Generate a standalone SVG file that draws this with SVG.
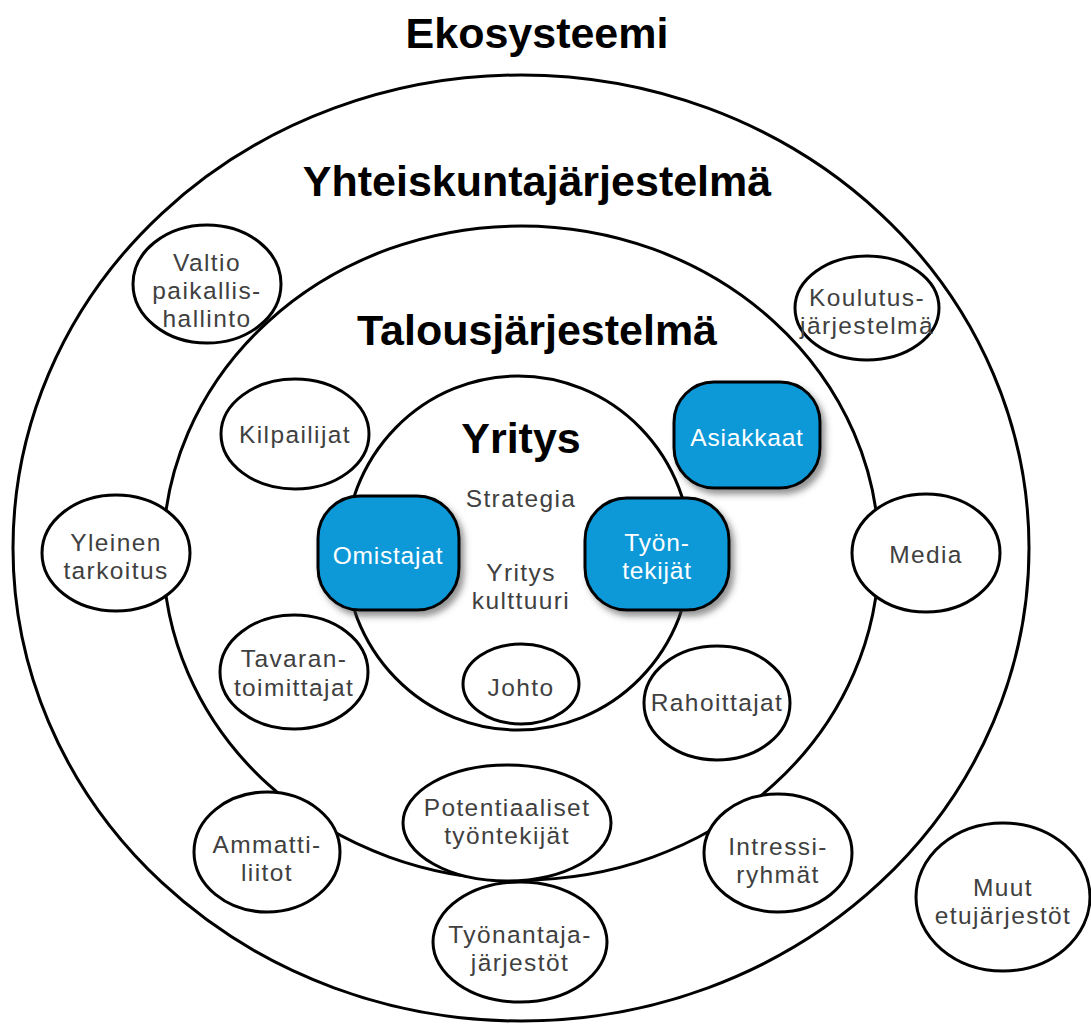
<svg xmlns="http://www.w3.org/2000/svg" width="1091" height="1026" viewBox="0 0 1091 1026">
  <defs>
    <filter id="shadow" x="-20%" y="-20%" width="150%" height="150%">
      <feDropShadow dx="4" dy="5" stdDeviation="3" flood-color="#404040" flood-opacity="0.55"/>
    </filter>
  </defs>
  <style>
    .ring { fill: none; stroke: #000; stroke-width: 3; }
    .node { fill: #fff; stroke: #000; stroke-width: 3; }
    .core { fill: #0A99D8; stroke: #000; stroke-width: 3; filter: url(#shadow); }
    .title { font-family: "Liberation Sans", Arial, sans-serif; font-weight: bold; font-size: 43px; fill: #000; text-anchor: middle; }
    .label { font-family: "Liberation Sans", Arial, sans-serif; font-size: 24.5px; letter-spacing: 1.4px; fill: #404040; text-anchor: middle; }
    .inv { font-family: "Liberation Sans", Arial, sans-serif; font-size: 24.5px; letter-spacing: 0.8px; fill: #fff; text-anchor: middle; }
  </style>
  <rect width="1091" height="1026" fill="#fff"/>

  <!-- nested system rings -->
  <g id="rings">
    <ellipse id="yhteiskunta" class="ring" cx="521" cy="548" rx="508" ry="473"/>
    <ellipse id="talous" class="ring" cx="521" cy="553" rx="358" ry="327"/>
    <ellipse id="yritys" class="ring" cx="518" cy="553" rx="173" ry="177"/>
  </g>

  <!-- level titles -->
  <text class="title" x="537" y="48">Ekosysteemi</text>
  <text class="title" x="537" y="196">Yhteiskuntajärjestelmä</text>
  <text class="title" x="537" y="345">Talousjärjestelmä</text>
  <text class="title" x="521" y="453">Yritys</text>

  <!-- inside the company -->
  <text class="label" x="521" y="507">Strategia</text>
  <text class="label" x="521" y="581">Yritys</text>
  <text class="label" x="521" y="609">kulttuuri</text>

  <!-- stakeholder nodes -->
  <g id="valtio">
    <ellipse class="node" cx="207" cy="284" rx="74" ry="59"/>
    <text class="label" x="207" y="271">Valtio</text>
    <text class="label" x="207" y="299">paikallis-</text>
    <text class="label" x="207" y="327">hallinto</text>
  </g>
  <g id="koulutus">
    <ellipse class="node" cx="867" cy="308" rx="72" ry="52"/>
    <text class="label" x="867" y="306">Koulutus-</text>
    <text class="label" x="867" y="334">järjestelmä</text>
  </g>
  <g id="kilpailijat">
    <ellipse class="node" cx="295" cy="434" rx="74" ry="55"/>
    <text class="label" x="295" y="443">Kilpailijat</text>
  </g>
  <g id="yleinen">
    <ellipse class="node" cx="116" cy="553" rx="74" ry="58"/>
    <text class="label" x="116" y="551">Yleinen</text>
    <text class="label" x="116" y="579">tarkoitus</text>
  </g>
  <g id="media">
    <ellipse class="node" cx="926" cy="553" rx="74" ry="59"/>
    <text class="label" x="926" y="563">Media</text>
  </g>
  <g id="tavarantoimittajat">
    <ellipse class="node" cx="294" cy="672" rx="74" ry="57"/>
    <text class="label" x="294" y="667">Tavaran-</text>
    <text class="label" x="294" y="696">toimittajat</text>
  </g>
  <g id="johto">
    <ellipse class="node" cx="521" cy="684" rx="58" ry="40"/>
    <text class="label" x="521" y="696">Johto</text>
  </g>
  <g id="rahoittajat">
    <ellipse class="node" cx="717" cy="703" rx="73" ry="57"/>
    <text class="label" x="717" y="711">Rahoittajat</text>
  </g>
  <g id="potentiaaliset">
    <ellipse class="node" cx="507" cy="823" rx="104" ry="58"/>
    <text class="label" x="507" y="816">Potentiaaliset</text>
    <text class="label" x="507" y="844">työntekijät</text>
  </g>
  <g id="ammattiliitot">
    <ellipse class="node" cx="267" cy="852" rx="73" ry="60"/>
    <text class="label" x="267" y="853">Ammatti-</text>
    <text class="label" x="267" y="881">liitot</text>
  </g>
  <g id="intressiryhmat">
    <ellipse class="node" cx="778" cy="853" rx="74" ry="59"/>
    <text class="label" x="778" y="855">Intressi-</text>
    <text class="label" x="778" y="883">ryhmät</text>
  </g>
  <g id="tyonantajajarjestot">
    <ellipse class="node" cx="520" cy="942" rx="87" ry="60"/>
    <text class="label" x="520" y="943">Työnantaja-</text>
    <text class="label" x="520" y="971">järjestöt</text>
  </g>
  <g id="muut">
    <ellipse class="node" cx="1003" cy="897" rx="87" ry="74"/>
    <text class="label" x="1003" y="896">Muut</text>
    <text class="label" x="1003" y="924">etujärjestöt</text>
  </g>

  <!-- key stakeholders -->
  <g id="asiakkaat">
    <rect class="core" x="674" y="382" width="146" height="106" rx="40" ry="40"/>
    <text class="inv" x="747" y="446">Asiakkaat</text>
  </g>
  <g id="omistajat">
    <rect class="core" x="318" y="496" width="141" height="114" rx="42" ry="42"/>
    <text class="inv" x="388" y="564">Omistajat</text>
  </g>
  <g id="tyontekijat">
    <rect class="core" x="585" y="498" width="144" height="112" rx="42" ry="42"/>
    <text class="inv" x="657" y="551">Työn-</text>
    <text class="inv" x="657" y="579">tekijät</text>
  </g>

  <!-- no connectors in this diagram -->
  <g id="connectors"/>
</svg>
